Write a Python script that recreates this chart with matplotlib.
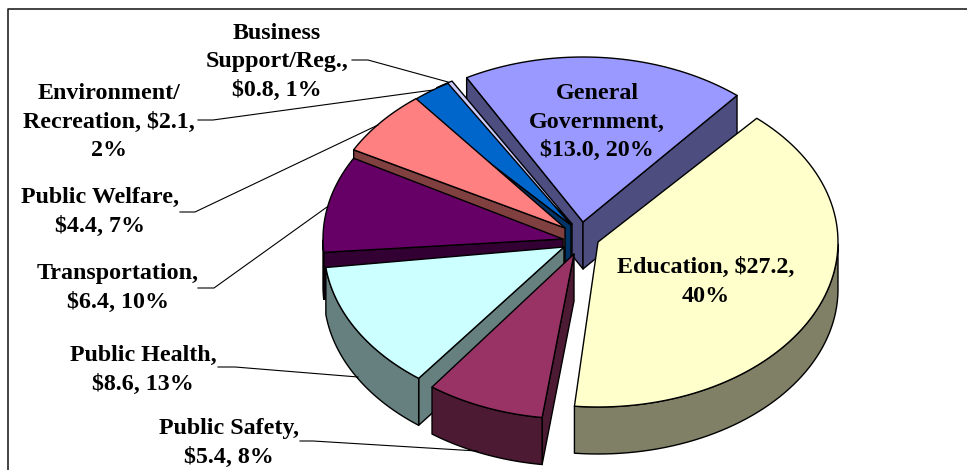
import numpy as np
import matplotlib
matplotlib.use('Agg')
import matplotlib.pyplot as plt
from matplotlib.patches import Polygon

# valores
nomes = ['General\nGovernment,', 'Education,', 'Public Safety,', 'Public Health,',
         'Transportation,', 'Public Welfare,', 'Environment/\nRecreation,', 'Business\nSupport/Reg.,']
valores = [13.0, 27.2, 5.4, 8.6, 6.4, 4.4, 2.1, 0.8]
percentuais = [20, 40, 8, 13, 10, 7, 2, 1]

cores_topo = ['#9999FF', '#FFFFCC', '#993366', '#CCFFFF', '#660066', '#FF8080', '#0066CC', '#CCCCFF']
cores_lado = ['#4D4D80', '#808066', '#4D1A33', '#668080', '#330033', '#804040', '#003366', '#666680']

# layout em pixels da imagem
vertices = [(583, 222), (598, 242), (574, 254), (564, 247), (563, 239), (565, 228), (571, 225), (572, 224)]
ajuste = [0, -1.5, -3.5, -4.5, -7, -6, -2.4, 1]
rx, ry, prof = 240, 165, 47
angulo_inicial = 119
ordem = [0, 7, 6, 5, 4, 3, 2, 1]

pos_texto = [(597, 122), (706, 282), (229, 443), (143, 370), (118, 288), (100, 212), (109, 122), (277, 62)]
guias = [None, None,
         [(300, 441), (313, 441), (477, 451)],
         [(218, 367), (235, 367), (358, 377)],
         [(198, 288), (214, 288), (327, 207)],
         [(180, 212), (195, 212), (378, 125)],
         [(198, 120), (213, 120), (433, 90)],
         [(352, 60), (368, 60), (448, 82)]]


def ponto(centro, t):
    return centro[0] + rx * np.cos(np.radians(t)), centro[1] - ry * np.sin(np.radians(t))


def parede(centro, t):
    # parede radial de uma fatia
    x, y = ponto(centro, t)
    return [centro, (x, y), (x, y + prof), (centro[0], centro[1] + prof)]


def desenha_fatia(ax, centro, t0, t1, topo, lado):
    ts = np.linspace(t0, t1, 80)
    borda = [ponto(centro, t) for t in ts]
    estilo = dict(edgecolor='black', linewidth=1.0, joinstyle='round')
    # paredes visiveis: normal apontando para baixo na tela
    if np.sin(np.radians(t0 + 90)) < 0:
        ax.add_patch(Polygon(parede(centro, t0), facecolor=lado, **estilo))
    if np.sin(np.radians(t1 - 90)) < 0:
        ax.add_patch(Polygon(parede(centro, t1), facecolor=lado, **estilo))
    # parte frontal da borda
    frente = [p for p, t in zip(borda, ts) if np.sin(np.radians(t)) < 0]
    if len(frente) > 1:
        baixo = [(x, y + prof) for x, y in frente][::-1]
        ax.add_patch(Polygon(frente + baixo, facecolor=lado, **estilo))
    ax.add_patch(Polygon([centro] + borda, facecolor=topo, **estilo))


fig = plt.figure(figsize=(9.67, 4.70), dpi=100)
ax = fig.add_axes([0, 0, 1, 1])
ax.set_xlim(0, 967)
ax.set_ylim(470, 0)
ax.axis('off')

# moldura: so esquerda e topo aparecem no recorte
ax.plot([8, 8, 967], [470, 9, 9], color='#222222', lw=1.2)

fracoes = np.array(valores) / sum(valores)
acumulado = np.concatenate([[0], np.cumsum(fracoes)])
for i in ordem:
    t0 = angulo_inicial - 360 * acumulado[i] + ajuste[i]
    t1 = angulo_inicial - 360 * acumulado[i + 1] + ajuste[i]
    desenha_fatia(ax, vertices[i], t0, t1, cores_topo[i], cores_lado[i])

for g in guias:
    if g is not None:
        ax.plot([p[0] for p in g], [p[1] for p in g], color='black', lw=0.8)

for i, nome in enumerate(nomes):
    if i == 6:
        # quebra propria do original
        txt = f'Environment/\nRecreation, ${valores[i]:.1f},\n{percentuais[i]}%'
    elif i == 1:
        txt = f'{nome} ${valores[i]:.1f},\n{percentuais[i]}%'
    else:
        txt = f'{nome}\n${valores[i]:.1f}, {percentuais[i]}%'
    ax.text(pos_texto[i][0], pos_texto[i][1], txt, ha='center', va='center', ma='center',
            family='Liberation Serif', fontweight='bold', fontsize=17.3, linespacing=1.48, color='black')

fig.savefig('out.png', dpi=100)
